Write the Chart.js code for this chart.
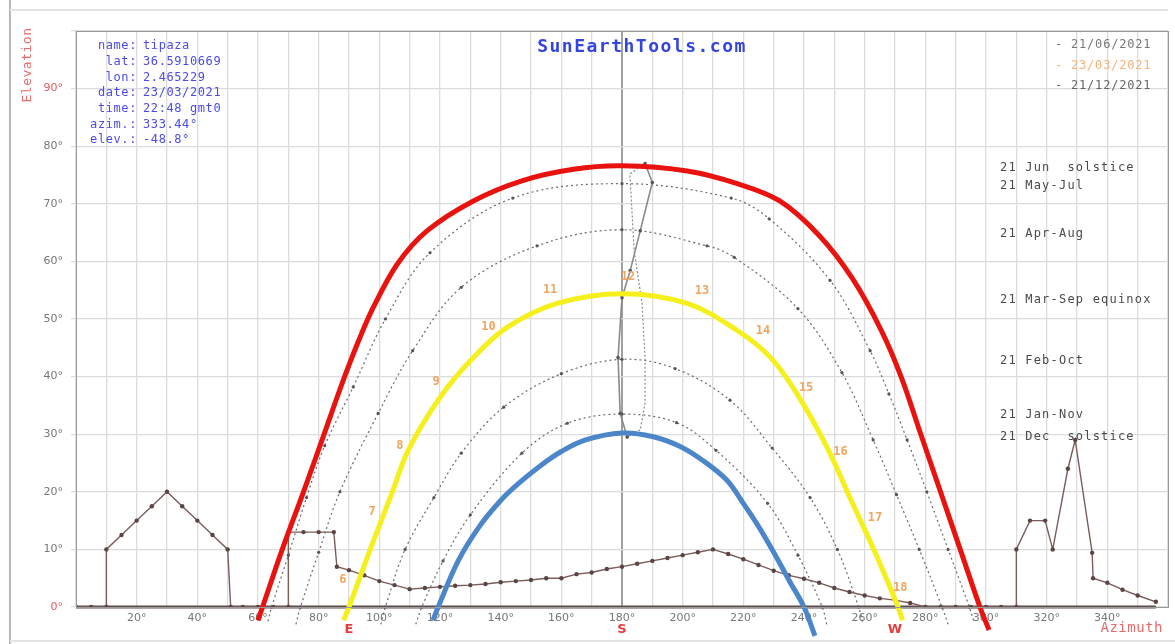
<!DOCTYPE html>
<html>
<head>
<meta charset="utf-8">
<script src="https://cdn.jsdelivr.net/npm/chart.js@4.4.0/dist/chart.umd.min.js"></script>
<style>
html, body { margin: 0; padding: 0; background: #fff; }
</style>
</head>
<body>
<canvas id="chart" width="1175" height="644"></canvas>
<script>
// sun path, tipaza (azimuth / elevation in degrees)

const junAz = [60, 61.5, 68, 75, 81.8, 87.5, 93, 98, 106, 115.7, 131, 147, 164, 180, 201.5, 218, 232, 245, 256, 265.5, 272, 278.5, 285, 291.5, 298, 301];
const junEl = [-2.3, 0, 10, 20, 30, 38.5, 46, 52, 59.6, 65.3, 70.5, 74, 76, 76.6, 75.7, 73.5, 70.5, 64.5, 57, 48, 40, 30, 20, 10, 0, -4];

const eqAz = [88.2, 90, 97, 104.3, 109.5, 120, 131, 142, 158.6, 180, 201.5, 218, 229, 237.7, 247.6, 256, 263, 267.5, 271, 272.5];
const eqEl = [-2.3, 0, 10, 20, 27.2, 36.4, 43.3, 48.5, 52.7, 54.4, 52.7, 48, 43.3, 37, 27.7, 18, 10, 4.5, 0, -2.3];

const decAz = [117.7, 119.4, 126, 133, 140, 146, 153, 160, 168, 180, 190, 199, 207, 214.6, 220, 225, 230, 235, 240, 243.6];
const decEl = [-2.3, 0, 8, 14, 18.5, 21.5, 24.5, 27, 29, 30.2, 29.6, 27.9, 25.3, 22, 18, 14, 9.5, 4.7, 0, -5];

const mayAz = [63.3, 64.5, 70, 76, 82, 91.4, 102, 116.7, 144, 180, 216, 228.5, 248.6, 261.8, 268, 274, 280.5, 287.5, 294.5, 296];
const mayEl = [-2.5, 0, 9, 19, 28, 38.2, 50, 61.5, 71, 73.5, 71, 67.4, 56.7, 44.5, 37, 29, 20, 10, 0, -2.5];

const aprAz = [72.5, 74, 80, 87, 99.6, 111, 127, 152, 180, 208, 217, 238, 252.5, 262.8, 270.5, 278, 285.5, 287.5];
const aprEl = [-3, 0, 9.5, 20, 33.6, 44.5, 55.5, 62.7, 65.5, 62.7, 60.7, 51.8, 40.7, 29, 19.5, 10, 0, -3];

const febAz = [100.5, 102, 108.5, 118, 127, 141, 160, 180, 197.5, 215.6, 229.5, 242, 251, 258, 259.5];
const febEl = [-3, 0, 10, 19, 26.7, 34.7, 40.5, 43, 41.4, 35.9, 27.6, 19, 10, 0, -3];

const janAz = [112, 114, 121, 130, 147, 162, 180, 198, 211, 228, 238, 246, 247.5];
const janEl = [-3, 0, 8, 16, 26.7, 31.9, 33.5, 32, 27.2, 18, 9, 0, -3];

// horizon profile (obstacles)
const hzAz = [0, 5, 10, 10, 15, 20, 25, 30, 35, 40, 45, 50, 51, 55, 60, 65, 70, 70, 75, 80, 85, 86, 90, 95, 100, 105, 110, 115, 120, 125, 130, 135, 140, 145, 150, 155, 160, 165, 170, 175, 180, 185, 190, 195, 200, 205, 210, 215, 220, 225, 230, 235, 240, 245, 250, 255, 260, 265, 270, 275, 280, 285, 290, 295, 300, 305, 310, 310, 314.5, 319.5, 322, 327, 329.4, 335, 335.3, 340, 345, 350, 356];
const hzEl = [0, 0, 0, 10, 12.5, 15, 17.5, 20, 17.5, 15, 12.5, 10, 0, 0, 0, 0, 0, 13, 13, 13, 13, 7, 6.4, 5.5, 4.5, 3.8, 3.1, 3.3, 3.5, 3.7, 3.8, 4, 4.3, 4.5, 4.7, 5, 5, 5.7, 6, 6.6, 7, 7.5, 8, 8.5, 9, 9.5, 10, 9.2, 8.3, 7.3, 6.3, 5.5, 4.9, 4.2, 3.3, 2.6, 2, 1.5, 1.2, 0.7, 0, 0, 0, 0, 0, 0, 0, 10, 15, 15, 10, 24, 29, 9.4, 5, 4.2, 3, 2, 0.9];
const baseAz = [0, 356];
const baseEl = [0, 0];

// analemma at noon
const anaSolidAz = [187.6, 190, 186, 182.7, 180, 178.7, 179.4, 181.7, 183.6];
const anaSolidEl = [77, 73.7, 65.3, 58.4, 53.7, 43.3, 33.6, 29.5, 30.3];
const anaDotAz = [187.6, 182.6, 184, 186.6, 187.6, 187.6, 186, 183.6];
const anaDotEl = [77, 75.2, 61.9, 52.7, 43.3, 35.4, 30.7, 30.3];

// hour marks on the equinox path
const hourLabels = ['6', '7', '8', '9', '10', '11', '12', '13', '14', '15', '16', '17', '18'];
const hourAz = [88, 97.6, 106.8, 118.7, 136, 156.3, 182, 206.4, 226.5, 240.7, 252, 263.4, 271.7];
const hourEl = [4.7, 16.5, 28, 39, 48.7, 55, 57.4, 54.8, 48, 38, 26.9, 15.4, 3.3];

const monthLabels = ['21 Jun  solstice', '21 May-Jul', '21 Apr-Aug', '21 Mar-Sep equinox', '21 Feb-Oct', '21 Jan-Nov', '21 Dec  solstice'];
const monthEl = [76.3, 73.1, 64.8, 53.4, 42.8, 33.3, 29.5];

const legendLabels = ['- 21/06/2021', '- 23/03/2021', '- 21/12/2021'];
const legendColors = ['#777777', '#f4b27a', '#666666'];

const infoKeys = ['name:', 'lat:', 'lon:', 'date:', 'time:', 'azim.:', 'elev.:'];
const infoValues = ['tipaza', '36.5910669', '2.465229', '23/03/2021', '22:48 gmt0', '333.44°', '-48.8°'];

const compassLabels = ['E', 'S', 'W'];
const compassAz = [90, 180, 270];

function pts(az, el)
{
    return az.map((a, i) => ({x: a, y: el[i]}));
}

function dotted(az, el)
{
    return {
        data: pts(az, el),
        borderColor: '#6a6a6a',
        borderWidth: 1.2,
        borderDash: [2, 3],
        pointRadius: 1.6,
        pointBackgroundColor: '#555',
        pointBorderWidth: 0,
        tension: 0.35,
        clip: false
    };
}

const sunTexts = {
    id: 'sunTexts',
    beforeDraw(chart)
    {
        let c = chart.ctx;
        c.save();
        c.fillStyle = '#fff';
        c.fillRect(0, 0, chart.width, chart.height);
        c.restore();
    },
    afterDraw(chart)
    {
        let c = chart.ctx;
        let a = chart.chartArea;
        let xs = chart.scales.x;
        let ys = chart.scales.y;
        c.save();

        // frame
        c.strokeStyle = '#9a9a9a';
        c.lineWidth = 1;
        c.strokeRect(a.left + 0.5, a.top + 0.5, a.right - a.left, a.bottom - a.top);
        c.strokeStyle = '#b8b8b8';
        c.lineWidth = 2;
        c.beginPath();
        c.moveTo(10, 0);
        c.lineTo(10, 644);
        c.stroke();
        c.strokeStyle = '#e4e4e4';
        c.beginPath();
        c.moveTo(10, 10);
        c.lineTo(1168, 10);
        c.moveTo(10, 641);
        c.lineTo(1175, 641);
        c.stroke();

        // title
        c.textBaseline = 'middle';
        c.font = 'bold 18px "DejaVu Sans Mono"';
        c.letterSpacing = '1.5px';
        c.fillStyle = '#3344e0';
        c.textAlign = 'center';
        c.fillText('SunEarthTools.com', 642, 47);

        // info block
        c.font = '12px "DejaVu Sans Mono"';
        c.letterSpacing = '0.6px';
        c.fillStyle = '#4b4bea';
        infoKeys.forEach((k, i) =>
        {
            let y = 46 + i * 15.7;
            c.textAlign = 'right';
            c.fillText(k, 137, y);
            c.textAlign = 'left';
            c.fillText(infoValues[i], 143, y);
        });

        // legend
        c.textAlign = 'left';
        c.letterSpacing = '0.8px';
        legendLabels.forEach((t, i) =>
        {
            c.fillStyle = legendColors[i];
            c.fillText(t, 1055, 45 + i * 20.5);
        });

        // month labels
        c.letterSpacing = '1.2px';
        c.fillStyle = '#4a4a4a';
        monthLabels.forEach((t, i) =>
        {
            c.fillText(t, 1000, ys.getPixelForValue(monthEl[i]));
        });

        // hour numbers
        c.font = 'bold 12px "DejaVu Sans Mono"';
        c.letterSpacing = '0px';
        c.textAlign = 'center';
        c.fillStyle = '#f0a55e';
        hourLabels.forEach((t, i) =>
        {
            c.fillText(t, xs.getPixelForValue(hourAz[i]), ys.getPixelForValue(hourEl[i]));
        });

        // E S W
        c.font = 'bold 13px "DejaVu Sans"';
        c.fillStyle = '#e63c3c';
        compassLabels.forEach((t, i) =>
        {
            c.fillText(t, xs.getPixelForValue(compassAz[i]), 630);
        });

        // axis titles
        c.font = '14px "DejaVu Sans Mono"';
        c.letterSpacing = '0.5px';
        c.fillStyle = '#e86a6a';
        c.textAlign = 'right';
        c.fillText('Azimuth', 1163, 628);
        c.translate(28, 65);
        c.rotate(-Math.PI / 2);
        c.textAlign = 'center';
        c.font = '13px "DejaVu Sans Mono"';
        c.fillText('Elevation', 0, 0);
        c.restore();
    }
};

let chartElement = document.getElementById('chart').getContext('2d');

let sunChart = new Chart(chartElement,
    {
        type: 'line',
        data:
            {
                datasets:
                    [
                        {
                            label: '21/06/2021',
                            data: pts(junAz, junEl),
                            borderColor: '#e8130f',
                            borderWidth: 5,
                            pointRadius: 0,
                            tension: 0.35,
                            clip: false
                        },
                        {
                            label: '23/03/2021',
                            data: pts(eqAz, eqEl),
                            borderColor: '#f5ef1c',
                            borderWidth: 5,
                            pointRadius: 0,
                            tension: 0.35,
                            clip: false
                        },
                        {
                            label: '21/12/2021',
                            data: pts(decAz, decEl),
                            borderColor: '#4b86c8',
                            borderWidth: 5,
                            pointRadius: 0,
                            tension: 0.35,
                            clip: false
                        },
                        {
                            label: 'analemma',
                            data: pts(anaSolidAz, anaSolidEl),
                            borderColor: '#8a8a8a',
                            borderWidth: 1.6,
                            pointRadius: 1.8,
                            pointBackgroundColor: '#555',
                            pointBorderWidth: 0,
                            tension: 0
                        },
                        {
                            label: 'analemma2',
                            data: pts(anaDotAz, anaDotEl),
                            borderColor: '#8a8a8a',
                            borderWidth: 1.2,
                            borderDash: [2, 2],
                            pointRadius: 0,
                            tension: 0
                        },
                        Object.assign({label: 'May-Jul'}, dotted(mayAz, mayEl)),
                        Object.assign({label: 'Apr-Aug'}, dotted(aprAz, aprEl)),
                        Object.assign({label: 'Feb-Oct'}, dotted(febAz, febEl)),
                        Object.assign({label: 'Jan-Nov'}, dotted(janAz, janEl)),
                        {
                            label: 'horizon',
                            data: pts(hzAz, hzEl),
                            borderColor: '#7a5c5a',
                            borderWidth: 1.4,
                            pointRadius: 2.2,
                            pointBackgroundColor: '#5a4444',
                            pointBorderWidth: 0,
                            tension: 0
                        },
                        {
                            label: 'base',
                            data: pts(baseAz, baseEl),
                            borderColor: '#5e4a48',
                            borderWidth: 3,
                            pointRadius: 0,
                            tension: 0,
                            clip: false
                        }
                    ]
            },
        options:
            {
                responsive: false,
                animation: false,
                devicePixelRatio: 1,
                layout: {padding: {left: 0, top: 31, right: 7, bottom: 0}},
                plugins:
                    {
                        legend: {display: false},
                        tooltip: {enabled: false}
                    },
                scales:
                    {
                        x:
                            {
                                type: 'linear',
                                min: 0,
                                max: 360,
                                afterFit: (s) => { s.height = 37; },
                                border: {display: false},
                                grid:
                                    {
                                        color: (ctx) => (ctx.tick && ctx.tick.value === 180) ? '#a0a0a0' : '#dcdcdc',
                                        lineWidth: (ctx) => (ctx.tick && ctx.tick.value === 180) ? 2 : 1.3,
                                        drawTicks: false
                                    },
                                ticks:
                                    {
                                        stepSize: 10,
                                        autoSkip: false,
                                        maxRotation: 0,
                                        padding: 5,
                                        color: '#777',
                                        font: {family: 'DejaVu Sans', size: 11},
                                        callback: (v) => (v % 20 === 0 && v > 0 && v < 360) ? v + '°' : ''
                                    }
                            },
                        y:
                            {
                                type: 'linear',
                                min: 0,
                                max: 100,
                                afterFit: (s) => { s.width = 76; },
                                border: {display: false},
                                grid:
                                    {
                                        color: '#dcdcdc',
                                        lineWidth: 1.3,
                                        tickLength: 5
                                    },
                                ticks:
                                    {
                                        stepSize: 10,
                                        padding: 8,
                                        color: (ctx) => (ctx.tick.value === 0 || ctx.tick.value === 90) ? '#e65a5a' : '#777',
                                        font: {family: 'DejaVu Sans', size: 11},
                                        callback: (v) => v === 100 ? '' : v + '°'
                                    }
                            }
                    }
            },
        plugins: [sunTexts]
    });
</script>
</body>
</html>
